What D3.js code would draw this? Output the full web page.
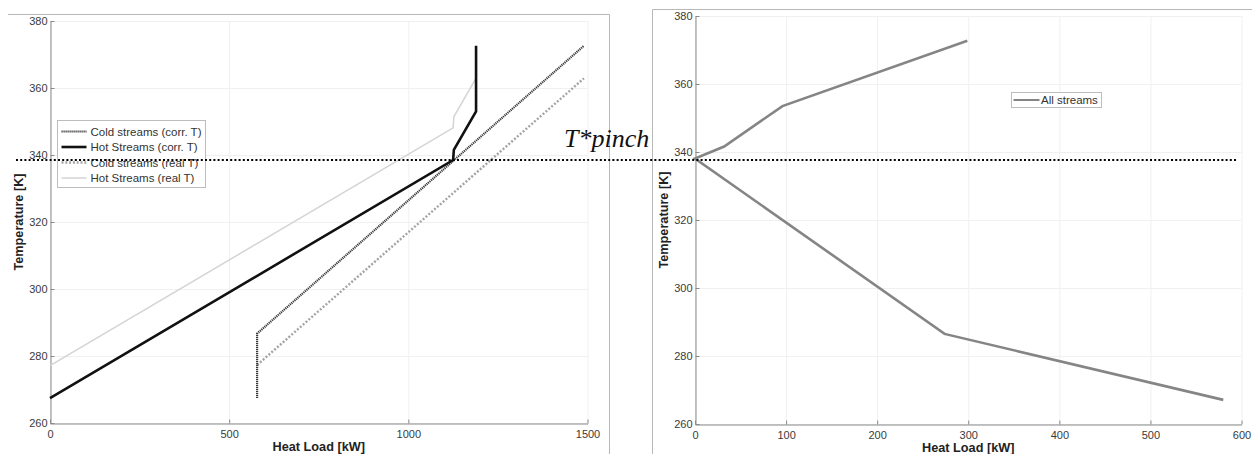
<!DOCTYPE html>
<html>
<head>
<meta charset="utf-8">
<script src="https://cdn.jsdelivr.net/npm/d3@7"></script>
<style>
body { margin: 0; background: #fff; }
</style>
</head>
<body>
<script>
// composite curves, [heat load kW, temperature K]
const coldCorr = [[578, 267.5], [578, 286.7], [1490, 372.6]];
const hotCorr = [[0, 267.4], [1125, 338.5], [1127, 341.5], [1189, 353], [1189, 372.6]];
const coldReal = [[578, 277.3], [1490, 362.9]];
const hotReal = [[0, 277.1], [1125, 348.1], [1127, 351.4], [1187, 362.6]];
// grand composite curve
const allStreams = [[299, 372.7], [96, 353.5], [32, 341.6], [0, 338.1], [274, 286.5], [580, 267.1]];

const leftTicksX = [0, 500, 1000, 1500];
const rightTicksX = [0, 100, 200, 300, 400, 500, 600];
const ticksY = [260, 280, 300, 320, 340, 360, 380];
const pinchT = 338.6;

const leftLegend = [
	{name: "Cold streams (corr. T)", color: "#383838", width: 2.2, dash: "1.2,0.8"},
	{name: "Hot Streams (corr. T)", color: "#111", width: 2.6, dash: null},
	{name: "Cold streams (real T)", color: "#a4a4a4", width: 2.4, dash: "2,1.8"},
	{name: "Hot Streams (real T)", color: "#d4d4d4", width: 1.5, dash: null}
];

const width = 1252, height = 454;
const font = "'Liberation Sans', Arial, sans-serif";

const svg = d3.select("body").append("svg")
	.attr("width", width)
	.attr("height", height)
	.style("display", "block");

// panel frames
svg.append("path")
	.attr("d", "M8,14.5H609.5V454")
	.attr("fill", "none")
	.attr("stroke", "#b8b8b8");
svg.append("path")
	.attr("d", "M652.5,454V9.5H1252")
	.attr("fill", "none")
	.attr("stroke", "#b8b8b8");

function axes (g, x, y, ticksX) {
	const [x0, x1] = x.range();
	const [y0, y1] = y.range();

	// grid
	g.append("g")
			.attr("stroke", "#f0f0f0")
			.attr("stroke-width", 1)
		.call(g => g.selectAll(".gx")
			.data(ticksX)
			.join("line")
				.attr("x1", d => x(d) + 0.5)
				.attr("x2", d => x(d) + 0.5)
				.attr("y1", y0)
				.attr("y2", y1))
		.call(g => g.selectAll(".gy")
			.data(ticksY)
			.join("line")
				.attr("y1", d => y(d) + 0.5)
				.attr("y2", d => y(d) + 0.5)
				.attr("x1", x0)
				.attr("x2", x1));

	g.append("g")
			.attr("transform", `translate(0,${y0 + 0.5})`)
			.call(d3.axisBottom(x).tickValues(ticksX).tickFormat(d3.format("d")).tickSizeInner(-4).tickSizeOuter(0).tickPadding(7))
			.call(g => g.selectAll(".domain, line").attr("stroke", "#8a8a8a"))
			.call(g => g.selectAll("text").attr("fill", "#3a3a3a").attr("font-size", 11).attr("font-family", font));

	g.append("g")
			.attr("transform", `translate(${x0 + 0.5},0)`)
			.call(d3.axisLeft(y).tickValues(ticksY).tickFormat(d3.format("d")).tickSizeInner(-4).tickSizeOuter(0).tickPadding(3))
			.call(g => g.selectAll(".domain, line").attr("stroke", "#8a8a8a"))
			.call(g => g.selectAll("text").attr("fill", "#3a3a3a").attr("font-size", 11).attr("font-family", font));

	g.append("text")
		.attr("x", (x0 + x1) / 2)
		.attr("y", y0 + 28)
		.attr("text-anchor", "middle")
		.attr("font-family", font)
		.attr("font-weight", "bold")
		.attr("font-size", 12.7)
		.attr("fill", "#222")
		.text("Heat Load [kW]");

	g.append("text")
		.attr("transform", `translate(${x0 - 27},${(y0 + y1) / 2}) rotate(-90)`)
		.attr("text-anchor", "middle")
		.attr("font-family", font)
		.attr("font-weight", "bold")
		.attr("font-size", 12.7)
		.attr("fill", "#222")
		.text("Temperature [K]");
}

// left: composite curves
const xL = d3.scaleLinear().domain([0, 1500]).range([50, 587.5]);
const yL = d3.scaleLinear().domain([260, 380]).range([423, 21]);
const left = svg.append("g");
axes(left, xL, yL, leftTicksX);

const lineL = d3.line().x(d => xL(d[0])).y(d => yL(d[1]));
const seriesL = [hotReal, coldReal, coldCorr, hotCorr];
const styleL = [leftLegend[3], leftLegend[2], leftLegend[0], leftLegend[1]];

left.append("g")
	.selectAll("path")
	.data(seriesL)
	.join("path")
		.attr("d", lineL)
		.attr("fill", "none")
		.attr("stroke", (d, i) => styleL[i].color)
		.attr("stroke-width", (d, i) => styleL[i].width)
		.attr("stroke-dasharray", (d, i) => styleL[i].dash);

const legL = left.append("g")
	.attr("transform", "translate(57.5,120.5)");
legL.append("rect")
	.attr("width", 148)
	.attr("height", 67)
	.attr("fill", "#fff")
	.attr("stroke", "#bdbdbd");
const rowsL = legL.selectAll("g")
	.data(leftLegend)
	.join("g")
		.attr("transform", (d, i) => `translate(0,${11 + i * 15.5})`);
rowsL.append("line")
	.attr("x1", 4)
	.attr("x2", 29)
	.attr("stroke", d => d.color)
	.attr("stroke-width", d => d.width)
	.attr("stroke-dasharray", d => d.dash);
rowsL.append("text")
	.attr("x", 33)
	.attr("dy", "0.35em")
	.attr("font-family", font)
	.attr("font-size", 11.5)
	.attr("fill", "#333")
	.text(d => d.name);

// right: grand composite curve
const xR = d3.scaleLinear().domain([0, 600]).range([695, 1241.5]);
const yR = d3.scaleLinear().domain([260, 380]).range([424, 16]);
const right = svg.append("g");
axes(right, xR, yR, rightTicksX);

right.append("path")
	.datum(allStreams)
	.attr("d", d3.line().x(d => xR(d[0])).y(d => yR(d[1])))
	.attr("fill", "none")
	.attr("stroke", "#858585")
	.attr("stroke-width", 2.6);

const legR = right.append("g")
	.attr("transform", "translate(1011.5,92.5)");
legR.append("rect")
	.attr("width", 90)
	.attr("height", 15)
	.attr("fill", "#fff")
	.attr("stroke", "#bdbdbd");
legR.append("line")
	.attr("x1", 2)
	.attr("x2", 28)
	.attr("y1", 7.5)
	.attr("y2", 7.5)
	.attr("stroke", "#858585")
	.attr("stroke-width", 2);
legR.append("text")
	.attr("x", 29.5)
	.attr("y", 7.5)
	.attr("dy", "0.35em")
	.attr("font-family", font)
	.attr("font-size", 11.5)
	.attr("fill", "#333")
	.text("All streams");

// pinch annotation across both panels
const yPinch = Math.round(yL(pinchT));
svg.append("line")
	.attr("x1", 16)
	.attr("x2", 1238)
	.attr("y1", yPinch)
	.attr("y2", yPinch)
	.attr("stroke", "#000")
	.attr("stroke-width", 2)
	.attr("stroke-dasharray", "2,2.2");

svg.append("text")
	.attr("x", 564)
	.attr("y", yPinch - 13)
	.attr("font-family", "'Liberation Serif', 'DejaVu Serif', serif")
	.attr("font-style", "italic")
	.attr("font-size", 26)
	.attr("fill", "#111")
	.text("T*pinch");
</script>
</body>
</html>
